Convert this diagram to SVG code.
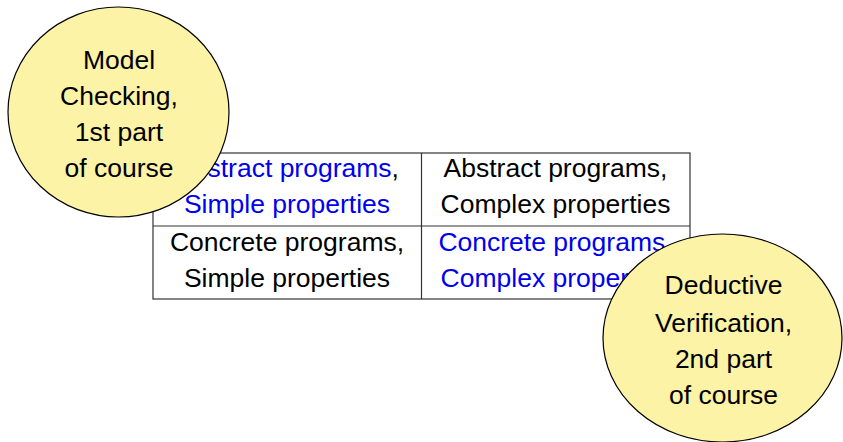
<svg xmlns="http://www.w3.org/2000/svg" width="843" height="442" viewBox="0 0 843 442">
<style>
text { font-family: "Liberation Sans", Arial, sans-serif; font-size: 26.5px; text-anchor: middle; fill: #000; }
.blue { fill: #0000ee; }
.grid { stroke: #333; stroke-width: 1.2; fill: none; }
.bubble { fill: #fcf3a6; stroke: #000; stroke-width: 1.2; }
</style>
<rect width="843" height="442" fill="#fff"/>
<g id="table">
  <rect class="grid" x="153" y="153" width="537" height="146" fill="#fff"/>
  <line class="grid" x1="421.5" y1="153" x2="421.5" y2="299"/>
  <line class="grid" x1="153" y1="226" x2="690" y2="226"/>
</g>
<g id="cell-abstract-simple">
  <text x="287" y="177"><tspan class="blue">Abstract programs</tspan>,</text>
  <text x="287" y="213" class="blue">Simple properties</text>
</g>
<g id="cell-abstract-complex">
  <text x="555.5" y="177">Abstract programs,</text>
  <text x="555.5" y="213">Complex properties</text>
</g>
<g id="cell-concrete-simple">
  <text x="287" y="250.5">Concrete programs,</text>
  <text x="287" y="287">Simple properties</text>
</g>
<g id="cell-concrete-complex">
  <text x="555.5" y="250.5" class="blue">Concrete programs,</text>
  <text x="555.5" y="287" class="blue">Complex properties</text>
</g>
<g id="model-checking">
  <ellipse class="bubble" cx="118.5" cy="112" rx="110.5" ry="105"/>
  <text x="119" y="68.5">Model</text>
  <text x="119" y="104.8">Checking,</text>
  <text x="119" y="141">1st part</text>
  <text x="119" y="177">of course</text>
</g>
<g id="deductive-verification">
  <ellipse class="bubble" cx="722.5" cy="338" rx="119.5" ry="104"/>
  <text x="723.5" y="294">Deductive</text>
  <text x="723.5" y="331.5">Verification,</text>
  <text x="723.5" y="368">2nd part</text>
  <text x="723.5" y="404">of course</text>
</g>
<g id="connectors"></g>
</svg>
